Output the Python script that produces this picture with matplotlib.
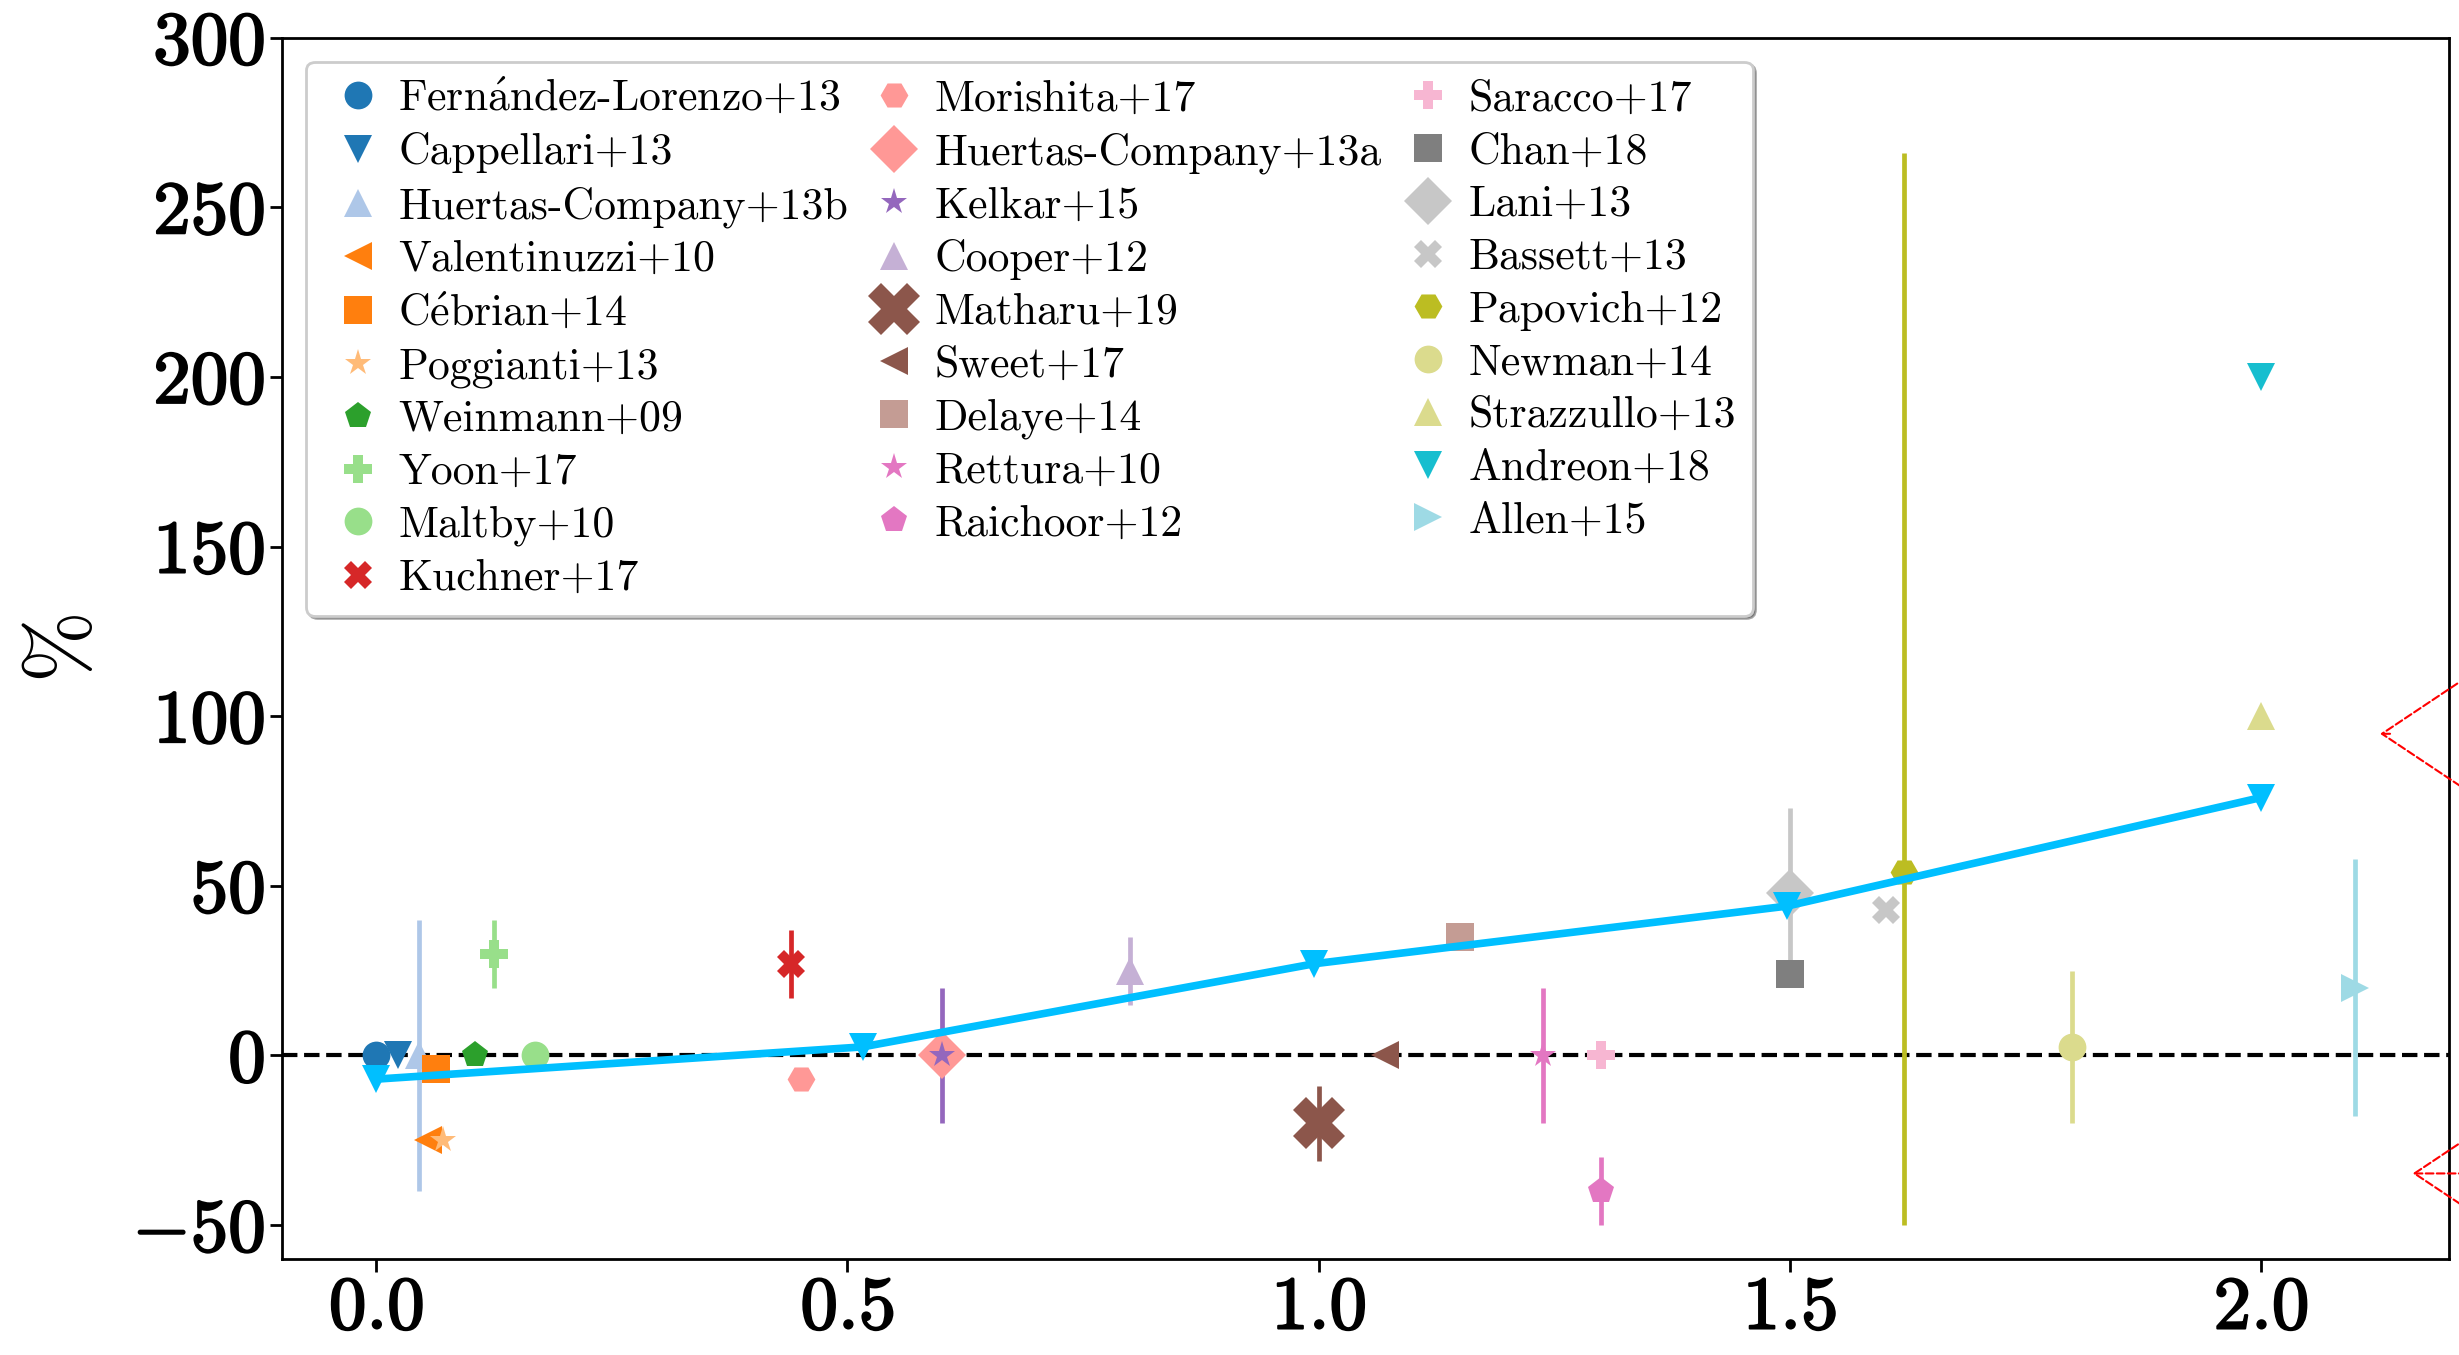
import numpy as np
import matplotlib.pyplot as plt
import matplotlib.patheffects as pe
from matplotlib.ticker import FuncFormatter

plt.rcParams['font.family'] = ['cmr10', 'DejaVu Serif']
plt.rcParams['mathtext.fontset'] = 'cm'
plt.rcParams['axes.unicode_minus'] = False

# studies, in legend order
labels = [r'Fern$\acute{\mathrm{a}}$ndez-Lorenzo+13', 'Cappellari+13', 'Huertas-Company+13b',
          'Valentinuzzi+10', r'C$\acute{\mathrm{e}}$brian+14', 'Poggianti+13', 'Weinmann+09',
          'Yoon+17', 'Maltby+10', 'Kuchner+17', 'Morishita+17', 'Huertas-Company+13a',
          'Kelkar+15', 'Cooper+12', 'Matharu+19', 'Sweet+17', 'Delaye+14', 'Rettura+10',
          'Raichoor+12', 'Saracco+17', 'Chan+18', 'Lani+13', 'Bassett+13', 'Papovich+12',
          'Newman+14', 'Strazzullo+13', 'Andreon+18', 'Allen+15']
z = [0.0, 0.023, 0.045, 0.055, 0.063, 0.071, 0.105, 0.125, 0.168, 0.44,
     0.451, 0.60, 0.60, 0.80, 1.00, 1.07, 1.15, 1.238, 1.30, 1.30,
     1.50, 1.50, 1.602, 1.621, 1.80, 2.00, 2.00, 2.10]
pct = [0, 0, 0, -25, -4, -25, 0, 30, 0, 27,
       -7, 0, 0, 25, -20, 0, 35, 0, -40, 0,
       24, 48, 43, 54, 2.5, 100, 200, 20]
err_lo = [0, 0, 40, 0, 0, 0, 0, 10, 0, 10,
          0, 0, 20, 10, 11, 0, 3, 20, 10, 0,
          0, 25, 0, 104, 22.5, 0, 0, 38]
err_hi = [0, 0, 40, 0, 0, 0, 0, 10, 0, 10,
          0, 0, 20, 10, 11, 0, 3, 20, 10, 0,
          0, 25, 0, 212, 22.5, 0, 0, 38]
markers = ['o', 'v', '^', '<', 's', '*', 'p', 'P', 'o', 'X',
           'H', 'D', '*', '^', 'X', '<', 's', '*', 'p', 'P',
           's', 'D', 'X', 'H', 'o', '^', 'v', '>']
colors = ['#1f77b4', '#1f77b4', '#aec7e8', '#ff7f0e', '#ff7f0e', '#ffbb78', '#2ca02c',
          '#98df8a', '#98df8a', '#d62728', '#ff9896', '#ff9896', '#9467bd', '#c5b0d5',
          '#8c564b', '#8c564b', '#c49c94', '#e377c2', '#e377c2', '#f7b6d2', '#7f7f7f',
          '#c7c7c7', '#c7c7c7', '#bcbd22', '#dbdb8d', '#dbdb8d', '#17becf', '#9edae5']
sizes = [20, 20, 20, 20, 20, 20, 20, 20, 20, 20,
         20, 24, 20, 20, 38, 20, 20, 20, 20, 20,
         20, 24, 20, 20, 20, 20, 20, 20]

# running mean curve
z_mean = [0.0, 0.516, 0.995, 1.497, 2.0]
pct_mean = [-7, 2.5, 27, 44, 76]

fig = plt.figure(figsize=(24.59, 13.55), dpi=100)
ax = fig.add_axes([0.1147, 0.0709, 0.8814, 0.9013])

ax.axhline(0, color='k', ls='--', lw=3, zorder=1)

for i in range(len(labels)):
    if err_lo[i] > 0 or err_hi[i] > 0:
        ax.errorbar([z[i]], [pct[i]], yerr=[[err_lo[i]], [err_hi[i]]], fmt='none',
                    ecolor=colors[i], elinewidth=3.4, capsize=0, zorder=2)
    ax.plot(z[i], pct[i], marker=markers[i], color=colors[i], ms=sizes[i],
            ls='none', mew=0, label=labels[i], zorder=3)

ax.plot(z_mean, pct_mean, color='deepskyblue', lw=5.5, marker='v', ms=20, mew=0, zorder=5)

# red annotation arrow heads at the right edge
for yy, xx in [(0.43, 0.968), (0.07, 0.983)]:
    ax.annotate('', xy=(xx, yy), xycoords='axes fraction', xytext=(1.12, yy),
                arrowprops=dict(arrowstyle='->, head_length=1.2, head_width=0.8',
                                color='red', lw=1.5, ls='--', mutation_scale=70,
                                shrinkA=230, shrinkB=0),
                annotation_clip=False)

ax.set_xlim(-0.1, 2.2)
ax.set_ylim(-60, 300)
ax.set_xticks(np.arange(0, 2.01, 0.5))
ax.set_yticks(np.arange(-50, 301, 50))
ax.xaxis.set_major_formatter(FuncFormatter(lambda v, p: r'$\mathbf{%.1f}$' % v))
ax.yaxis.set_major_formatter(FuncFormatter(lambda v, p: r'$\mathbf{%d}$' % v))
ax.tick_params(labelsize=54, length=9, width=2)
for t in ax.get_xticklabels() + ax.get_yticklabels():
    t.set_path_effects([pe.withStroke(linewidth=1.5, foreground='k')])
for s in ax.spines.values():
    s.set_linewidth(2)

ax.set_ylabel(r'$\%$', fontsize=62, labelpad=20)

leg = ax.legend(ncol=3, loc='upper left', fontsize=31.5, shadow=True, fancybox=True,
                numpoints=1, handlelength=1.6, handletextpad=0.13, columnspacing=0.25,
                labelspacing=0.29, borderpad=0.38, framealpha=1, borderaxespad=0.55)
leg.get_frame().set_edgecolor('#cccccc')
leg.get_frame().set_linewidth(2)

fig.savefig('out.png', dpi=100)
